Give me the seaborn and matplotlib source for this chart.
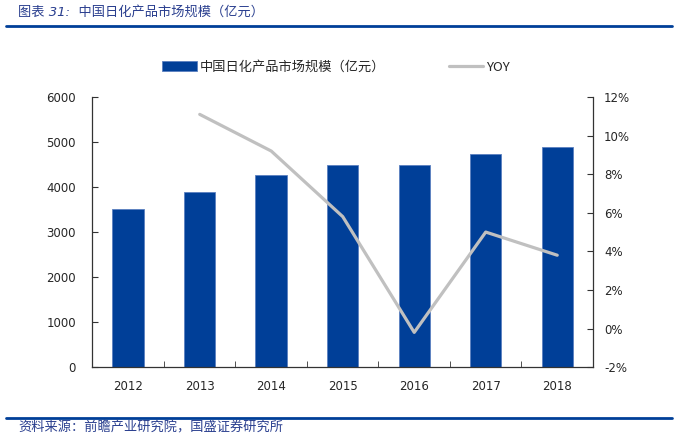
import numpy as np
import pandas as pd
import matplotlib
matplotlib.use("Agg")
import matplotlib.pyplot as plt
import seaborn as sns

# data
years = ["2012", "2013", "2014", "2015", "2016", "2017", "2018"]
market_size = [3510, 3900, 4260, 4500, 4490, 4730, 4900]   # 亿元
yoy = [np.nan, 11.1, 9.2, 5.8, -0.2, 5.0, 3.8]               # %

bar_label = "中国日化产品市场规模（亿元）"
line_label = "YOY"
title = "图表 31:  中国日化产品市场规模（亿元）"
source = "资料来源：前瞻产业研究院，国盛证券研究所"

sns.set_style("white")
plt.rcParams["font.family"] = ["DejaVu Sans", "Noto Sans CJK SC"]

df = pd.DataFrame({"year": years, "size": market_size, "yoy": yoy,
                   "pos": np.arange(len(years))})

fig = plt.figure(figsize=(6.75, 4.36), dpi=100)
ax = fig.add_axes([0.137, 0.158, 0.7415, 0.6195])

bar_color = "#003f98"
sns.barplot(data=df, x="year", y="size", color=bar_color, width=0.44,
            saturation=1, edgecolor="#5a80c0", linewidth=0.6, ax=ax,
            label=bar_label)
ax.set_ylim(0, 6000)
ax.set_yticks(range(0, 6001, 1000))
ax.set_xlim(-0.5, len(years) - 0.5)
ax.set_xlabel("")
ax.set_ylabel("")

ax2 = ax.twinx()
sns.lineplot(data=df, x="pos", y="yoy", color="#c0c0c0", linewidth=2.3,
             ax=ax2, label=line_label, legend=False)
ax2.set_ylim(-2, 12)
ax2.set_yticks(range(-2, 13, 2))
ax2.set_yticklabels([f"{v}%" for v in range(-2, 13, 2)])
ax2.set_xlim(-0.5, len(years) - 0.5)
ax2.set_xlabel("")
ax2.set_ylabel("")

spine_c = "#333333"
for a in (ax, ax2):
    a.spines["top"].set_visible(False)
    for s in ("left", "right", "bottom"):
        a.spines[s].set_color(spine_c)
        a.spines[s].set_linewidth(0.9)
ax.spines["right"].set_visible(False)
ax2.spines["left"].set_visible(False)
ax2.spines["bottom"].set_visible(False)

ax.tick_params(axis="y", direction="in", length=4, color=spine_c,
               labelsize=8.5, pad=12, left=True)
ax2.tick_params(axis="y", direction="in", length=4, color=spine_c,
                labelsize=8.5, pad=8, right=True)
# category ticks sit between the bars
ax.set_xticks(np.arange(-0.5, len(years) - 0.5, 1)[1:], minor=True)
ax.tick_params(axis="x", which="minor", direction="in", length=4,
               color=spine_c, bottom=True)
ax.tick_params(axis="x", which="major", length=0, labelsize=8.5, pad=9)

# legend across the top
h1, l1 = ax.get_legend_handles_labels()
h2, l2 = ax2.get_legend_handles_labels()
if ax.get_legend() is not None:
    ax.get_legend().remove()
fig.legend(h1 + h2, l1 + l2, loc="center", bbox_to_anchor=(0.498, 0.846),
           ncol=2, frameon=False, handlelength=2.6,
           handleheight=0.8, columnspacing=4.8, handletextpad=0.25,
           prop={"family": ["Noto Sans CJK SC", "DejaVu Sans"], "size": 9.5})

# header and footer
blue_text = "#2a3f8f"
fig.text(0.027, 0.972, title, ha="left", va="center", fontsize=9.5,
         color=blue_text, style="italic",
         family=["DejaVu Sans", "Noto Sans CJK SC"])
fig.add_artist(plt.Line2D([0.009, 0.995], [0.941, 0.941], color="#003f98",
                          linewidth=2, transform=fig.transFigure))
fig.add_artist(plt.Line2D([0.009, 0.995], [0.041, 0.041], color="#003f98",
                          linewidth=2, transform=fig.transFigure))
fig.text(0.027, 0.033, source, ha="left", va="top", fontsize=9.5,
         color=blue_text, style="italic",
         family=["Noto Sans CJK SC", "DejaVu Sans"])

fig.savefig("out.png", dpi=100)
